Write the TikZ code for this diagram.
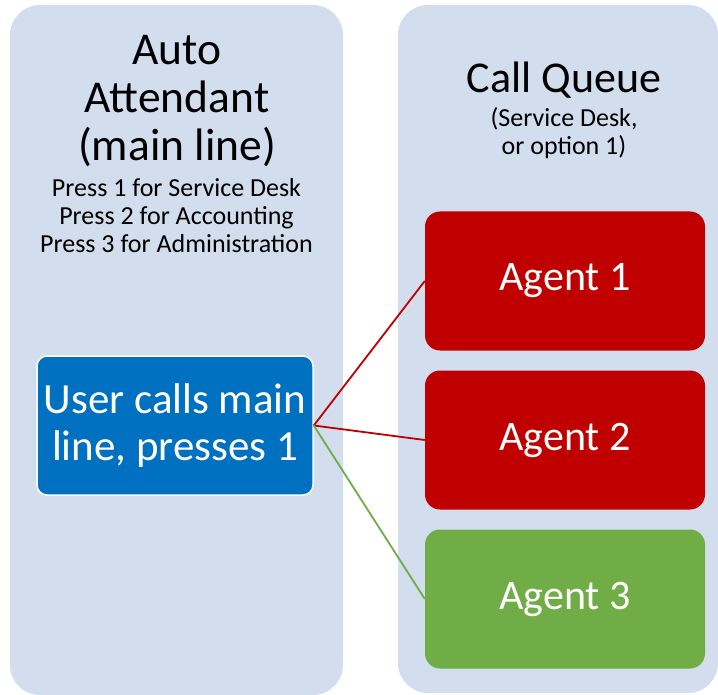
\documentclass[tikz,border=0pt]{standalone}
\usepackage{fontspec}
\setmainfont{Carlito}
\usepackage{tikz}

\definecolor{panelblue}{HTML}{D2DDEE}
\definecolor{userblue}{HTML}{0070C0}
\definecolor{agentred}{HTML}{C00000}
\definecolor{agentgreen}{HTML}{70AD47}

\begin{document}
\begin{tikzpicture}[x=1pt, y=-1pt,
  panel/.style={fill=panelblue, rounded corners=30pt, inner sep=0pt},
  agent/.style={fill=#1, text=white, rounded corners=15pt, minimum width=280pt, minimum height=139pt, font=\fontsize{42}{47}\selectfont},
  link/.style={line width=1.8pt}]
\useasboundingbox (0,0) rectangle (718,695);

% die zwei bereiche
\node[panel, minimum width=333pt, minimum height=690pt] (left) at (176.5,350) {};
\node[panel, minimum width=320pt, minimum height=688pt] (right) at (558,349) {};

% texte links (base = letzte zeile)
\node[anchor=base, align=center, font=\fontsize{45.5}{48}\selectfont] (aatitle) at (177,161) {Auto\\Attendant\\(main line)};
\node[anchor=base, align=center, font=\fontsize{26}{28}\selectfont] (aamenu) at (176.5,253) {Press 1 for Service Desk\\Press 2 for Accounting\\Press 3 for Administration};

% texte rechts
\node[anchor=base, font=\fontsize{44}{48}\selectfont] (cqtitle) at (564,93) {Call Queue};
\node[anchor=base, align=center, font=\fontsize{26}{28}\selectfont] (cqsub) at (564,155) {(Service Desk,\\or option 1)};

% anrufer
\node[fill=userblue, draw=white, line width=1.5pt, rounded corners=10pt, text=white, align=center, minimum width=276pt, minimum height=139pt, font=\fontsize{43}{47}\selectfont] (user) at (175,425.5) {User calls main\\line, presses 1};

% agenten
\node[agent=agentred] (agent1) at (565,281) {Agent 1};
\node[agent=agentred] (agent2) at (565,440) {Agent 2};
\node[agent=agentgreen] (agent3) at (565,599) {Agent 3};

\draw[link, agentred] (user.east) -- (agent1.west);
\draw[link, agentred] (user.east) -- (agent2.west);
\draw[link, agentgreen] (user.east) -- (agent3.west);

\end{tikzpicture}
\end{document}
